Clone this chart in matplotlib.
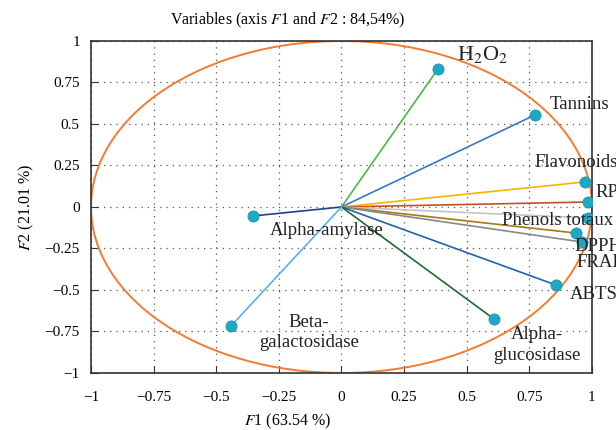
import numpy as np
import matplotlib
matplotlib.use('Agg')
import matplotlib.pyplot as plt
from matplotlib.patches import Ellipse

# variable loadings on F1 / F2
variables = ['H2O2', 'Tannins', 'Flavonoids', 'RP', 'Phenols totaux', 'DPPH', 'FRAP',
             'ABTS', 'Alpha-glucosidase', 'Alpha-amylase', 'Beta-galactosidase']
f1 = [0.385, 0.772, 0.972, 0.984, 0.984, 0.936, 0.960, 0.856, 0.609, -0.353, -0.441]
f2 = [0.831, 0.554, 0.151, 0.030, -0.066, -0.157, -0.211, -0.470, -0.675, -0.054, -0.717]
line_colors = ['#4cb848', '#3a78c4', '#f7b500', '#c0502a', '#c4c4c4', '#a8780a', '#888888',
               '#2462a6', '#1f6b30', '#20427e', '#5ab2e2']
labels = ['H$_2$O$_2$', 'Tannins', 'Flavonoids', 'RP', 'Phenols totaux', 'DPPH', 'FRAP',
          'ABTS', 'Alpha-\nglucosidase', 'Alpha-amylase', 'Beta-\ngalactosidase']
# where each label sits (data units)
label_pos = [(0.461, 0.916), (0.832, 0.620), (0.772, 0.265), (1.012, 0.090), (0.641, -0.084),
             (0.932, -0.241), (0.940, -0.337), (0.912, -0.530), (0.780, -0.834),
             (-0.285, -0.139), (-0.130, -0.756)]

plt.rcParams['font.family'] = ['Liberation Serif', 'DejaVu Serif']
plt.rcParams['mathtext.fontset'] = 'stix'

fig = plt.figure(figsize=(6.16, 4.30), dpi=100)
ax = fig.add_axes([0.1477, 0.1326, 0.8133, 0.7721])

for x, y, c in zip(f1, f2, line_colors):
    ax.plot([0, x], [0, y], color=c, lw=1.2, zorder=3)
ax.scatter(f1, f2, s=65, color='#1fa8c4', edgecolors='#1690aa', linewidths=0.5, zorder=5)

ax.add_patch(Ellipse((0, 0), 2, 2, fill=False, edgecolor='#f47b30', lw=1.4, zorder=2))

for lab, (lx, ly) in zip(labels, label_pos):
    fs = 16 if lab.startswith('H$') else 13.5
    ha = 'center' if '\n' in lab else 'left'
    ax.text(lx, ly, lab, fontsize=fs, ha=ha, va='center', color='#222222',
            clip_on=False, zorder=6, linespacing=1.3)

ax.set_xlim(-1, 1)
ax.set_ylim(-1, 1)
ticks = np.arange(-1, 1.01, 0.25)
ax.set_xticks(ticks)
ax.set_yticks(ticks)
tick_labels = ['\u22121', '\u22120.75', '\u22120.5', '\u22120.25', '0', '0.25', '0.5', '0.75', '1']
ax.set_xticklabels(tick_labels)
ax.set_yticklabels(tick_labels)
ax.tick_params(direction='in', length=5, labelsize=11, color='#333333')
ax.tick_params(axis='x', pad=13)
ax.tick_params(axis='y', pad=8)
ax.grid(True, linestyle=(0, (1, 4)), color='#555555', lw=0.9)
for s in ax.spines.values():
    s.set_color('#333333')
    s.set_linewidth(1.2)

fig.text(0.4675, 0.953, 'Variables (axis $\\it{F}$1 and $\\it{F}$2 : 84,54%)', fontsize=11.5,
         ha='center', va='center')
fig.text(0.4675, 0.020, '$\\it{F}$1 (63.54 %)', fontsize=11.5, ha='center', va='center')
ax.set_ylabel('$\\it{F}$2 (21.01 %)', fontsize=11.5, labelpad=6)

fig.savefig('out.png', dpi=100)
